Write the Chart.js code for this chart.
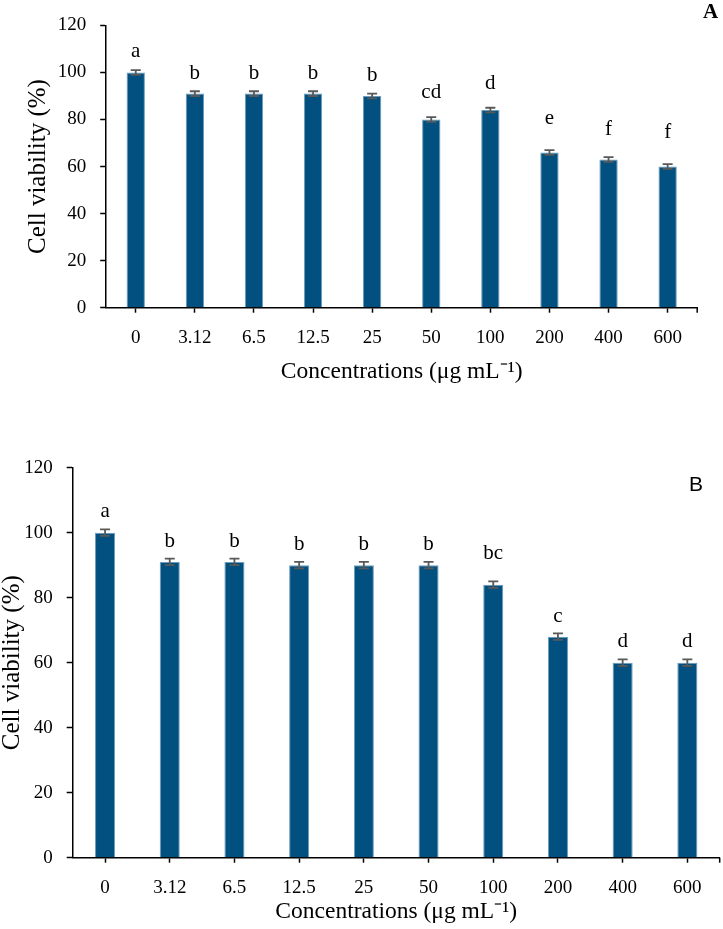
<!DOCTYPE html>
<html><head><meta charset="utf-8">
<script src="https://cdn.jsdelivr.net/npm/chart.js@4.4.0/dist/chart.umd.min.js"></script>
<style>
html,body{margin:0;padding:0;background:#fff;width:723px;height:929px;overflow:hidden;position:relative}
canvas{position:absolute;left:0}
#cA{top:0}
#cB{top:420px}
.panel{position:absolute;color:#000;line-height:1;white-space:nowrap}
#pA{left:703px;top:-1px;font:bold 21px "Liberation Serif",serif}
#pB{left:689px;top:472px;font:21px "Liberation Sans",sans-serif}
</style></head><body>
<canvas id="cA" width="723" height="400"></canvas>
<canvas id="cB" width="723" height="509"></canvas>
<div class="panel" id="pA">A</div>
<div class="panel" id="pB">B</div>
<script>
// ---- data ----
const concentrations = ['0','3.12','6.5','12.5','25','50','100','200','400','600'];
const viabilityA = [100, 91, 91, 91, 90, 80, 84, 66, 63, 60];
const errorA = [1, 1, 1, 1, 1, 1, 1, 1, 1, 1];
const lettersA = ['a','b','b','b','b','cd','d','e','f','f'];
const viabilityB = [100, 91, 91, 90, 90, 90, 84, 68, 60, 60];
const errorB = [1, 1, 1, 1, 1, 1, 1, 1, 1, 1];
const lettersB = ['a','b','b','b','b','b','bc','c','d','d'];
const yMin = 0, yMax = 120, yStep = 20;
const xTitle = 'Concentrations (\u03bcg mL\u207b\u00b9)';
const yTitle = 'Cell viability (%)';

// ---- layout (not data) ----
const SERIF = '"Liberation Serif", serif';
const BAR = '#02507f';

const annot = {
  id: 'annot',
  afterDatasetsDraw(chart, args, opts) {
    const {ctx, scales: {y}, chartArea} = chart;
    const ds = chart.data.datasets[0];
    const meta = chart.getDatasetMeta(0);
    ctx.save();
    ctx.strokeStyle = '#595959';
    ctx.lineWidth = 1.8;
    opts.errors.forEach((e, i) => {
      const v = ds.data[i];
      const px = meta.data[i].x;
      const yt = y.getPixelForValue(v + e), yb = y.getPixelForValue(v - e);
      ctx.beginPath();
      ctx.moveTo(px, yt); ctx.lineTo(px, yb);
      ctx.moveTo(px - 5, yt); ctx.lineTo(px + 5, yt);
      ctx.moveTo(px - 5, yb); ctx.lineTo(px + 5, yb);
      ctx.stroke();
    });
    ctx.fillStyle = '#000';
    ctx.font = '21px ' + SERIF;
    ctx.textAlign = 'center';
    ctx.textBaseline = 'alphabetic';
    opts.letters.forEach((t, i) => {
      const px = meta.data[i].x;
      const top = y.getPixelForValue(ds.data[i]);
      ctx.fillText(t, px, top - opts.lift[i]);
    });
    ctx.strokeStyle = '#000';
    ctx.lineWidth = 1.5;
    ctx.beginPath();
    ctx.moveTo(chartArea.right, chartArea.bottom);
    ctx.lineTo(chartArea.right, chartArea.bottom + 5);
    ctx.stroke();
    ctx.restore();
  }
};

function makeChart(id, values, errors, letters, lift, L) {
  return new Chart(document.getElementById(id), {
    type: 'bar',
    data: {
      labels: concentrations,
      datasets: [{
        data: values,
        backgroundColor: BAR,
        borderColor: '#6e9cbb',
        borderWidth: 1,
        categoryPercentage: 1,
        barPercentage: 0.31
      }]
    },
    options: {
      responsive: false,
      animation: false,
      devicePixelRatio: 1,
      layout: {padding: {left: 0, top: L.top, right: L.right, bottom: 0}},
      plugins: {
        legend: {display: false},
        tooltip: {enabled: false},
        annot: {errors: errors, letters: letters, lift: lift}
      },
      scales: {
        x: {
          offset: true,
          grid: {offset: false, drawOnChartArea: false, drawTicks: true, tickLength: 5, tickColor: '#000', tickWidth: 1.5},
          border: {display: true, color: '#000', width: 1.5},
          ticks: {color: '#000', font: {family: SERIF, size: 19}, padding: 14, maxRotation: 0, autoSkip: false},
          title: {display: true, text: xTitle, color: '#000', font: {family: SERIF, size: 23.5}, padding: {top: 0, bottom: L.xtPad}},
          afterFit(s) { s.height = L.xh; }
        },
        y: {
          min: yMin, max: yMax,
          grid: {drawOnChartArea: false, drawTicks: true, tickLength: 6, tickColor: '#000', tickWidth: 1.5},
          border: {display: true, color: '#000', width: 1.5},
          ticks: {stepSize: yStep, color: '#000', font: {family: SERIF, size: 19}, padding: 14},
          title: {display: true, text: yTitle, color: '#000', font: {family: SERIF, size: 25, lineHeight: 1}, padding: {top: L.ytPad, bottom: 0}},
          afterFit(s) { s.width = L.yw; }
        }
      }
    },
    plugins: [annot]
  });
}

makeChart('cA', viabilityA, errorA, lettersA,
  [15, 15, 15, 15, 15, 22, 21, 28, 24, 29],
  {top: 23, right: 25.8, xh: 92.3, yw: 106.2, xtPad: 14.2, ytPad: 25.5});
makeChart('cB', viabilityB, errorB, lettersB,
  [16, 15, 15, 15, 15, 15, 26, 15, 16, 16],
  {top: 47.7, right: 3.3, xh: 71.3, yw: 72.7, xtPad: 3, ytPad: 0});
</script>
</body></html>
